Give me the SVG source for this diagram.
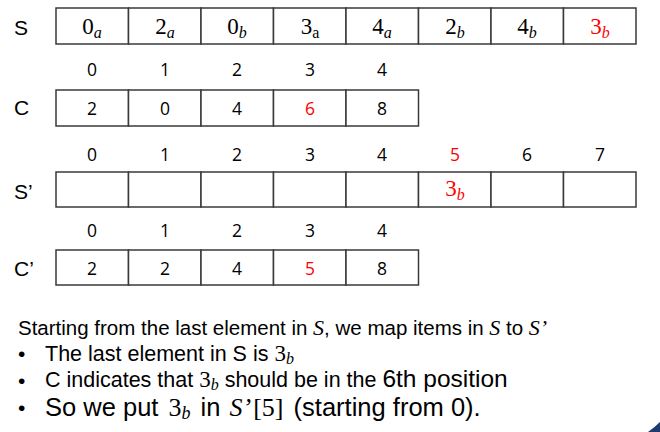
<svg xmlns="http://www.w3.org/2000/svg" width="660" height="432" viewBox="0 0 660 432">
<style>
.cell{fill:#fff;stroke:#3a3a3a;stroke-width:1.5}
.lbl{font-family:"Liberation Sans",Arial,sans-serif;font-size:21px;fill:#000}
.num{font-family:"Open Sans","Noto Sans",sans-serif;font-size:17.5px;fill:#000;text-anchor:middle}
.m{font-family:"Liberation Serif","DejaVu Serif",serif;font-size:23px;fill:#000;text-anchor:middle}
.sub{font-size:16px;font-style:italic}
.subr{font-size:16px}
.red{fill:#ff0000}
.txt{font-family:"Liberation Sans",Arial,sans-serif;fill:#000}
.mi{font-family:"Liberation Serif","DejaVu Serif",serif;font-style:italic}
.mr{font-family:"Liberation Serif","DejaVu Serif",serif}
</style>
<g id="label-S"><text class="lbl" x="14" y="35">S</text></g>
<g id="row-S">
<rect class="cell" x="56" y="8" width="72.5" height="36"/>
<rect class="cell" x="128.5" y="8" width="72.5" height="36"/>
<rect class="cell" x="201" y="8" width="72.5" height="36"/>
<rect class="cell" x="273.5" y="8" width="72.5" height="36"/>
<rect class="cell" x="346" y="8" width="72.5" height="36"/>
<rect class="cell" x="418.5" y="8" width="72.5" height="36"/>
<rect class="cell" x="491" y="8" width="72.5" height="36"/>
<rect class="cell" x="563.5" y="8" width="72.5" height="36"/>
<text class="m" x="92" y="34">0<tspan class="sub" dy="4">a</tspan></text>
<text class="m" x="165" y="34">2<tspan class="sub" dy="4">a</tspan></text>
<text class="m" x="237" y="34">0<tspan class="sub" dy="4">b</tspan></text>
<text class="m" x="310" y="34">3<tspan class="subr" dy="4">a</tspan></text>
<text class="m" x="382" y="34">4<tspan class="sub" dy="4">a</tspan></text>
<text class="m" x="455" y="34">2<tspan class="sub" dy="4">b</tspan></text>
<text class="m" x="527" y="34">4<tspan class="sub" dy="4">b</tspan></text>
<text class="m red" x="600" y="34">3<tspan class="sub" dy="4">b</tspan></text>
</g>
<g id="idx-C">
<text class="num" x="92" y="76">0</text>
<text class="num" x="165" y="76">1</text>
<text class="num" x="237" y="76">2</text>
<text class="num" x="310" y="76">3</text>
<text class="num" x="382" y="76">4</text>
</g>
<g id="label-C"><text class="lbl" x="14" y="115">C</text></g>
<g id="row-C">
<rect class="cell" x="56" y="90" width="72.5" height="36"/>
<rect class="cell" x="128.5" y="90" width="72.5" height="36"/>
<rect class="cell" x="201" y="90" width="72.5" height="36"/>
<rect class="cell" x="273.5" y="90" width="72.5" height="36"/>
<rect class="cell" x="346" y="90" width="72.5" height="36"/>
<text class="num" x="92" y="115">2</text>
<text class="num" x="165" y="115">0</text>
<text class="num" x="237" y="115">4</text>
<text class="num red" x="310" y="115">6</text>
<text class="num" x="382" y="115">8</text>
</g>
<g id="idx-S2">
<text class="num" x="92" y="161">0</text>
<text class="num" x="165" y="161">1</text>
<text class="num" x="237" y="161">2</text>
<text class="num" x="310" y="161">3</text>
<text class="num" x="382" y="161">4</text>
<text class="num red" x="455" y="161">5</text>
<text class="num" x="527" y="161">6</text>
<text class="num" x="600" y="161">7</text>
</g>
<g id="label-S2"><text class="lbl" x="14" y="199">S’</text></g>
<g id="row-S2">
<rect class="cell" x="56" y="172" width="72.5" height="35"/>
<rect class="cell" x="128.5" y="172" width="72.5" height="35"/>
<rect class="cell" x="201" y="172" width="72.5" height="35"/>
<rect class="cell" x="273.5" y="172" width="72.5" height="35"/>
<rect class="cell" x="346" y="172" width="72.5" height="35"/>
<rect class="cell" x="418.5" y="172" width="72.5" height="35"/>
<rect class="cell" x="491" y="172" width="72.5" height="35"/>
<rect class="cell" x="563.5" y="172" width="72.5" height="35"/>
<text class="m red" x="455" y="196">3<tspan class="sub" dy="4">b</tspan></text>
</g>
<g id="idx-C2">
<text class="num" x="92" y="237">0</text>
<text class="num" x="165" y="237">1</text>
<text class="num" x="237" y="237">2</text>
<text class="num" x="310" y="237">3</text>
<text class="num" x="382" y="237">4</text>
</g>
<g id="label-C2"><text class="lbl" x="14" y="276">C’</text></g>
<g id="row-C2">
<rect class="cell" x="56" y="250" width="72.5" height="35"/>
<rect class="cell" x="128.5" y="250" width="72.5" height="35"/>
<rect class="cell" x="201" y="250" width="72.5" height="35"/>
<rect class="cell" x="273.5" y="250" width="72.5" height="35"/>
<rect class="cell" x="346" y="250" width="72.5" height="35"/>
<text class="num" x="92" y="275">2</text>
<text class="num" x="165" y="275">2</text>
<text class="num" x="237" y="275">4</text>
<text class="num red" x="310" y="275">5</text>
<text class="num" x="382" y="275">8</text>
</g>
<g id="explanation">
<text class="txt" x="18" y="335" style="font-size:20.5px">Starting from the last element in <tspan class="mi" style="font-size:22px">S</tspan>, we map items in <tspan class="mi" style="font-size:22px">S</tspan> to <tspan class="mi" style="font-size:22px">S’</tspan></text>
<text class="txt" x="18" y="361" style="font-size:21px">•</text>
<text class="txt" x="45" y="361" style="font-size:21.5px">The last element in S is <tspan class="mr" style="font-size:23px">3</tspan><tspan class="mi" style="font-size:16px" dy="3">b</tspan></text>
<text class="txt" x="18" y="388" style="font-size:21px">•</text>
<text class="txt" x="45" y="387" style="font-size:21.5px">C indicates that <tspan class="mr" style="font-size:23px">3</tspan><tspan class="mi" style="font-size:16px" dy="3">b</tspan><tspan dy="-3"> should be in the </tspan><tspan style="font-size:24.5px">6th position</tspan></text>
<text class="txt" x="18" y="415" style="font-size:21px">•</text>
<text class="txt" x="45" y="416" style="font-size:25.5px">So we put <tspan class="mr" style="font-size:26px" dx="3">3</tspan><tspan class="mi" style="font-size:18px" dy="3">b</tspan><tspan dy="-3" dx="3"> in </tspan><tspan class="mi" style="font-size:26px" dx="2">S’</tspan><tspan class="mr" style="font-size:26px" dx="2">[5]</tspan><tspan dx="3"> (starting from 0).</tspan></text>
</g>
<path d="M648 432 Q655 427 660 422 L660 432 Z" fill="#1f3a6e"/>
</svg>
